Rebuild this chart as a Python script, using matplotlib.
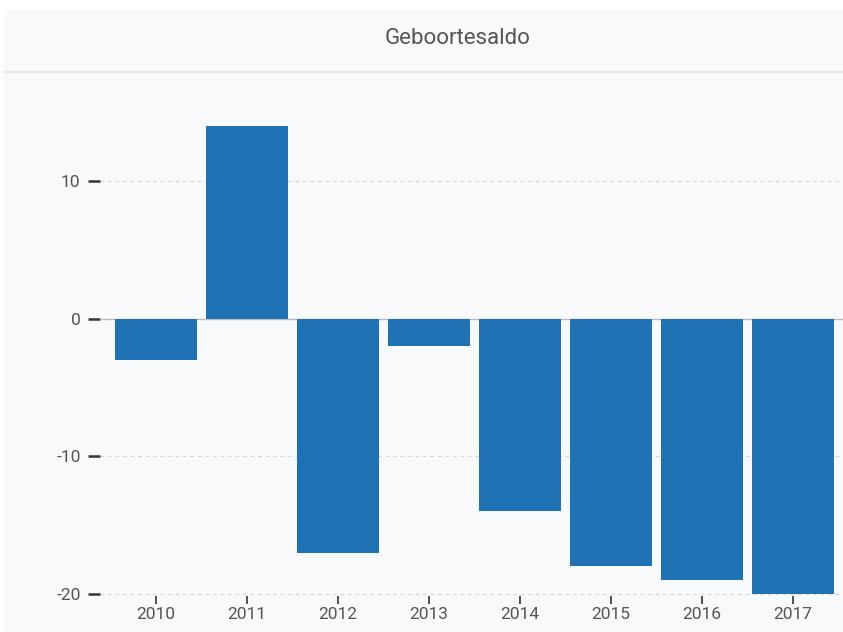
import matplotlib
matplotlib.use("Agg")
import matplotlib.pyplot as plt
from matplotlib.patches import Rectangle
from matplotlib.lines import Line2D

years = ["2010", "2011", "2012", "2013", "2014", "2015", "2016", "2017"]
values = [-3, 14, -17, -2, -14, -18, -19, -20]
yticks = [-20, -10, 0, 10]

W, H = 843, 632
fig = plt.figure(figsize=(W / 100, H / 100), dpi=100, facecolor="white")
plt.rcParams["font.family"] = ["Roboto", "DejaVu Sans"]

bg = "#f8f9fb"
fig.patches.append(Rectangle((4 / W, 0), 1, 1 - 10 / H, transform=fig.transFigure,
                             facecolor=bg, edgecolor="none", zorder=-10))
fig.lines.append(Line2D([4 / W, 1], [1 - 72 / H] * 2, transform=fig.transFigure,
                        color="#e8e9ec", lw=1.5, zorder=-5))
fig.text(458 / W, 1 - 38 / H, "Geboortesaldo", ha="center", va="center",
         fontsize=16, color="#555555")

ax = fig.add_axes([100 / W, 1 - 596 / H, (843 - 100) / W, (596 - 74) / H])
ax.set_facecolor(bg)
x = list(range(len(years)))
ax.bar(x, values, width=0.9, color="#1f72b4", zorder=3)
ax.set_xlim(-0.615, 7.55)
ax.set_ylim(-20.15, 17.8)
ax.set_yticks(yticks)
ax.set_yticklabels([str(v) for v in yticks])
ax.set_xticks(x)
ax.set_xticklabels(years)
for s in ax.spines.values():
    s.set_visible(False)
for v in yticks:
    if v == 0:
        ax.axhline(v, color="#bbbbbb", lw=1, zorder=2)
    else:
        ax.axhline(v, color="#d5d5d5", lw=0.9, ls=(0, (3, 3)), zorder=1)
ax.tick_params(axis="y", length=9, width=1.8, color="#333333", labelcolor="#555555",
               labelsize=12.5, pad=5, direction="out")
ax.tick_params(axis="x", length=6, width=1.2, color="#333333", labelcolor="#555555",
               labelsize=12.5, pad=2, direction="out")

fig.savefig("out.png", dpi=100, facecolor="white")
